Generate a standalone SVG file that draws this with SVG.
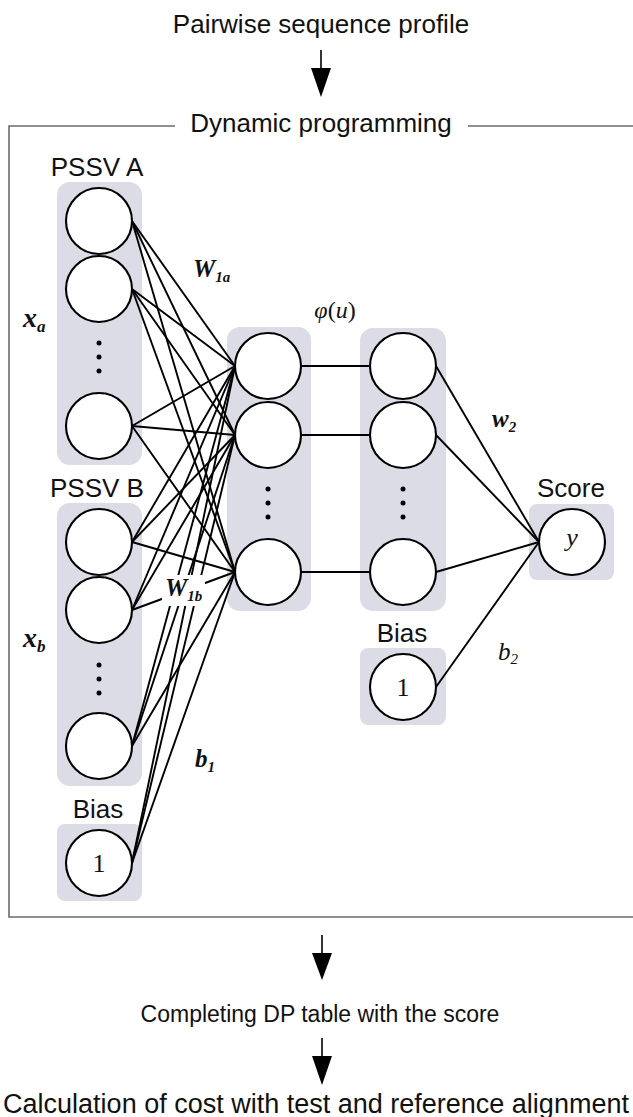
<svg xmlns="http://www.w3.org/2000/svg" width="633" height="1117" viewBox="0 0 633 1117">
<style>
.bg{fill:#dcdce6}
.node{fill:#fff;stroke:#000;stroke-width:2.1}
.edge{stroke:#000;stroke-width:1.9;fill:none}
.frame{stroke:#6b6b6b;stroke-width:1.6;fill:none}
.lbl{font-family:"Liberation Sans",Arial,sans-serif;font-size:26px;text-anchor:middle;fill:#111}
.bi{font-family:"Liberation Serif","Times New Roman",serif;font-style:italic;font-weight:bold;fill:#111}
.it{font-family:"Liberation Serif","Times New Roman",serif;font-style:italic;fill:#111}
.rm{font-family:"Liberation Serif","Times New Roman",serif;fill:#111}
.dot{fill:#000}
.arrow{stroke:#000;stroke-width:1.6}
</style>

<!-- flow text and arrows -->
<text class="lbl" x="321" y="33">Pairwise sequence profile</text>
<g id="arrow-top"><line class="arrow" x1="321" y1="50" x2="321" y2="72"/><polygon points="311,68 331,68 321,97"/></g>

<!-- frame -->
<path class="frame" d="M175 126 H9 V917 H640 M468 126 H640"/>
<text class="lbl" x="321" y="132">Dynamic programming</text>

<!-- layer backgrounds -->
<g id="layer-bg">
<rect class="bg" x="57" y="182" width="85" height="283" rx="13"/>
<rect class="bg" x="57" y="503" width="85" height="283" rx="13"/>
<rect class="bg" x="57" y="824" width="85" height="77" rx="8"/>
<rect class="bg" x="227" y="327" width="84" height="284" rx="13"/>
<rect class="bg" x="360" y="328" width="86" height="283" rx="13"/>
<rect class="bg" x="360" y="648" width="86" height="77" rx="8"/>
<rect class="bg" x="529" y="504" width="85" height="76" rx="8"/>
</g>

<!-- connectors -->
<g id="connectors" class="edge">
<line x1="132" y1="221" x2="235" y2="366"/><line x1="132" y1="221" x2="235" y2="435"/><line x1="132" y1="221" x2="235" y2="572"/>
<line x1="132" y1="289" x2="235" y2="366"/><line x1="132" y1="289" x2="235" y2="435"/><line x1="132" y1="289" x2="235" y2="572"/>
<line x1="132" y1="426" x2="235" y2="366"/><line x1="132" y1="426" x2="235" y2="435"/><line x1="132" y1="426" x2="235" y2="572"/>
<line x1="132" y1="542" x2="235" y2="366"/><line x1="132" y1="542" x2="235" y2="435"/><line x1="132" y1="542" x2="235" y2="572"/>
<line x1="132" y1="610" x2="235" y2="366"/><line x1="132" y1="610" x2="235" y2="435"/><line x1="132" y1="610" x2="235" y2="572"/>
<line x1="132" y1="746" x2="235" y2="366"/><line x1="132" y1="746" x2="235" y2="435"/><line x1="132" y1="746" x2="235" y2="572"/>
<line x1="132" y1="863" x2="235" y2="366"/><line x1="132" y1="863" x2="235" y2="435"/><line x1="132" y1="863" x2="235" y2="572"/>
<line x1="301" y1="366" x2="370" y2="366"/><line x1="301" y1="435" x2="370" y2="435"/><line x1="301" y1="572" x2="370" y2="572"/>
<line x1="436" y1="366" x2="539" y2="542"/><line x1="436" y1="435" x2="539" y2="542"/><line x1="436" y1="572" x2="539" y2="542"/>
<line x1="436" y1="687" x2="539" y2="542"/>
</g>

<!-- nodes: input A -->
<g id="in-a1"><circle class="node" cx="99" cy="221" r="33"/></g>
<g id="in-a2"><circle class="node" cx="99" cy="289" r="33"/></g>
<g id="in-a-dots"><circle class="dot" cx="99" cy="343" r="2.5"/><circle class="dot" cx="99" cy="357" r="2.5"/><circle class="dot" cx="99" cy="371" r="2.5"/></g>
<g id="in-a3"><circle class="node" cx="99" cy="426" r="33"/></g>
<text class="lbl" x="97" y="176">PSSV A</text>

<!-- input B -->
<g id="in-b1"><circle class="node" cx="99" cy="542" r="33"/></g>
<g id="in-b2"><circle class="node" cx="99" cy="610" r="33"/></g>
<g id="in-b-dots"><circle class="dot" cx="99" cy="665" r="2.5"/><circle class="dot" cx="99" cy="679" r="2.5"/><circle class="dot" cx="99" cy="693" r="2.5"/></g>
<g id="in-b3"><circle class="node" cx="99" cy="746" r="33"/></g>
<text class="lbl" x="97" y="497">PSSV B</text>

<!-- bias 1 -->
<g id="bias1"><circle class="node" cx="99" cy="863" r="33"/><text class="rm" x="99" y="872" font-size="26" text-anchor="middle">1</text></g>
<text class="lbl" x="98" y="818">Bias</text>

<!-- hidden 1 -->
<g id="h1-1"><circle class="node" cx="268" cy="366" r="33"/></g>
<g id="h1-2"><circle class="node" cx="268" cy="435" r="33"/></g>
<g id="h1-dots"><circle class="dot" cx="268" cy="489" r="2.5"/><circle class="dot" cx="268" cy="503" r="2.5"/><circle class="dot" cx="268" cy="517" r="2.5"/></g>
<g id="h1-3"><circle class="node" cx="268" cy="572" r="33"/></g>

<!-- hidden 2 -->
<g id="h2-1"><circle class="node" cx="403" cy="366" r="33"/></g>
<g id="h2-2"><circle class="node" cx="403" cy="435" r="33"/></g>
<g id="h2-dots"><circle class="dot" cx="403" cy="489" r="2.5"/><circle class="dot" cx="403" cy="503" r="2.5"/><circle class="dot" cx="403" cy="517" r="2.5"/></g>
<g id="h2-3"><circle class="node" cx="403" cy="572" r="33"/></g>

<!-- bias 2 -->
<g id="bias2"><circle class="node" cx="403" cy="687" r="33"/><text class="rm" x="403" y="696" font-size="26" text-anchor="middle">1</text></g>
<text class="lbl" x="402" y="642">Bias</text>

<!-- score -->
<g id="score"><circle class="node" cx="572" cy="542" r="33"/><text class="it" x="572" y="546" font-size="26" text-anchor="middle">y</text></g>
<text class="lbl" x="571" y="497">Score</text>

<!-- math labels -->
<text class="bi" x="23" y="327" font-size="28">x<tspan font-size="17" dy="5">a</tspan></text>
<text class="bi" x="23" y="647" font-size="28">x<tspan font-size="17" dy="5">b</tspan></text>
<text class="bi" x="193" y="277" font-size="25">W<tspan font-size="15" dy="5">1a</tspan></text>
<rect x="162" y="575" width="43" height="31" fill="#fff"/>
<text class="bi" x="165" y="596" font-size="25">W<tspan font-size="15" dy="5">1b</tspan></text>
<text class="bi" x="195" y="767" font-size="25">b<tspan font-size="15" dy="5">1</tspan></text>
<text class="bi" x="492" y="427" font-size="25">w<tspan font-size="15" dy="5">2</tspan></text>
<text class="it" x="498" y="660" font-size="25">b<tspan font-size="15" dy="4">2</tspan></text>
<text class="rm" x="335" y="318" font-size="24" text-anchor="middle"><tspan font-style="italic">φ</tspan>(<tspan font-style="italic">u</tspan>)</text>

<!-- bottom flow -->
<g id="arrow-mid"><line class="arrow" x1="322" y1="935" x2="322" y2="957"/><polygon points="312,953 332,953 322,980"/></g>
<text class="lbl" x="320" y="1022" font-size="23" style="font-size:23px">Completing DP table with the score</text>
<g id="arrow-bot"><line class="arrow" x1="322" y1="1038" x2="322" y2="1060"/><polygon points="312,1056 332,1056 322,1085"/></g>
<text class="lbl" x="316" y="1113" style="font-size:27px">Calculation of cost with test and reference alignment</text>
</svg>
